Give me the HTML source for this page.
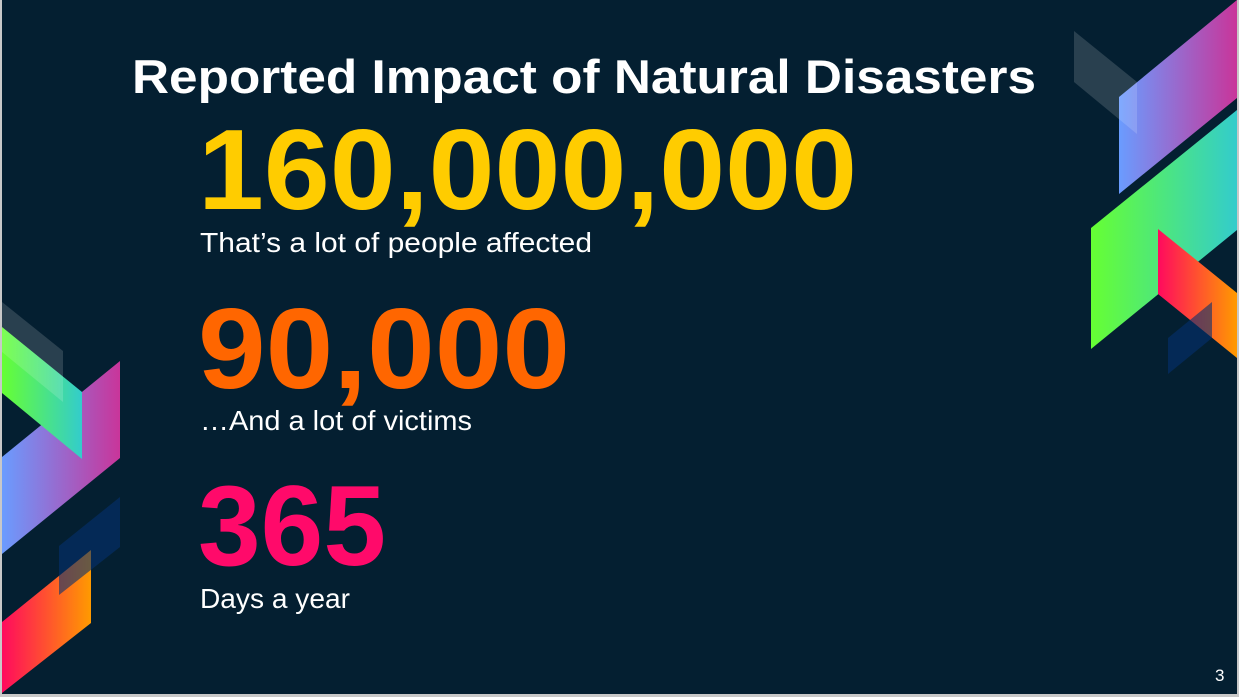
<!DOCTYPE html>
<html><head><meta charset="utf-8"><style>
html,body{margin:0;padding:0;background:#041f31;}
svg{display:block;}
text{font-family:"Liberation Sans",sans-serif;}
</style></head><body>
<svg width="1239" height="697" viewBox="0 0 1239 697" xmlns="http://www.w3.org/2000/svg">
<defs>
<linearGradient id="gp" x1="0" x2="1" y1="0" y2="0"><stop offset="0" stop-color="#6a9cff"/><stop offset="1" stop-color="#c9359a"/></linearGradient>
<linearGradient id="gg" x1="0" x2="1" y1="0" y2="0"><stop offset="0" stop-color="#66ff33"/><stop offset="1" stop-color="#33cccc"/></linearGradient>
<linearGradient id="gr" x1="0" x2="1" y1="0" y2="0"><stop offset="0" stop-color="#ff0a5e"/><stop offset="1" stop-color="#ff9a00"/></linearGradient>
</defs>
<rect x="0" y="0" width="1239" height="697" fill="#041f31"/>
<rect x="0" y="0" width="2" height="697" fill="#c8c8c8"/>
<rect x="0" y="694" width="1239" height="3" fill="#c8c8c8"/>
<rect x="1237" y="0" width="2" height="697" fill="#c8c8c8"/>
<g>
<polygon points="1119,97 1237,0 1237,98 1119,194" fill="url(#gp)"/>
<polygon points="1091,228 1237,110 1237,230 1091,349" fill="url(#gg)"/>
<polygon points="1158,229 1237,293 1237,358 1158,294" fill="url(#gr)"/>
<polygon points="1074,31 1137,82 1137,134 1074,82" fill="#ffffff" fill-opacity="0.15"/>
<polygon points="1168,338 1212,302 1212,338 1168,374" fill="#053070" fill-opacity="0.6"/>
</g>
<g>
<polygon points="2,457 120,361 120,458 2,554" fill="url(#gp)"/>
<polygon points="2,327 82,392 82,459 2,393" fill="url(#gg)"/>
<polygon points="2,302 63,351 63,402 2,352" fill="#ffffff" fill-opacity="0.15"/>
<polygon points="2,622 91,550 91,623 2,693" fill="url(#gr)"/>
<polygon points="59,546 120,497 120,547 59,595" fill="#053070" fill-opacity="0.6"/>
</g>
<text x="132" y="93" font-size="47" font-weight="bold" fill="#ffffff" textLength="904" lengthAdjust="spacingAndGlyphs">Reported Impact of Natural Disasters</text>
<text x="198" y="209" font-size="114" font-weight="bold" fill="#ffcc00" textLength="659" lengthAdjust="spacingAndGlyphs">160,000,000</text>
<text x="200" y="252" font-size="28" fill="#ffffff" textLength="392" lengthAdjust="spacingAndGlyphs">That’s a lot of people affected</text>
<text x="198" y="388" font-size="114" font-weight="bold" fill="#ff6600" textLength="372" lengthAdjust="spacingAndGlyphs">90,000</text>
<text x="200" y="430" font-size="28" fill="#ffffff" textLength="272" lengthAdjust="spacingAndGlyphs">…And a lot of victims</text>
<text x="198" y="565" font-size="114" font-weight="bold" fill="#ff0a6a" textLength="188" lengthAdjust="spacingAndGlyphs">365</text>
<text x="200" y="608" font-size="28" fill="#ffffff" textLength="150" lengthAdjust="spacingAndGlyphs">Days a year</text>
<text x="1215" y="681" font-size="17" fill="#ffffff">3</text>
</svg>
</body></html>
